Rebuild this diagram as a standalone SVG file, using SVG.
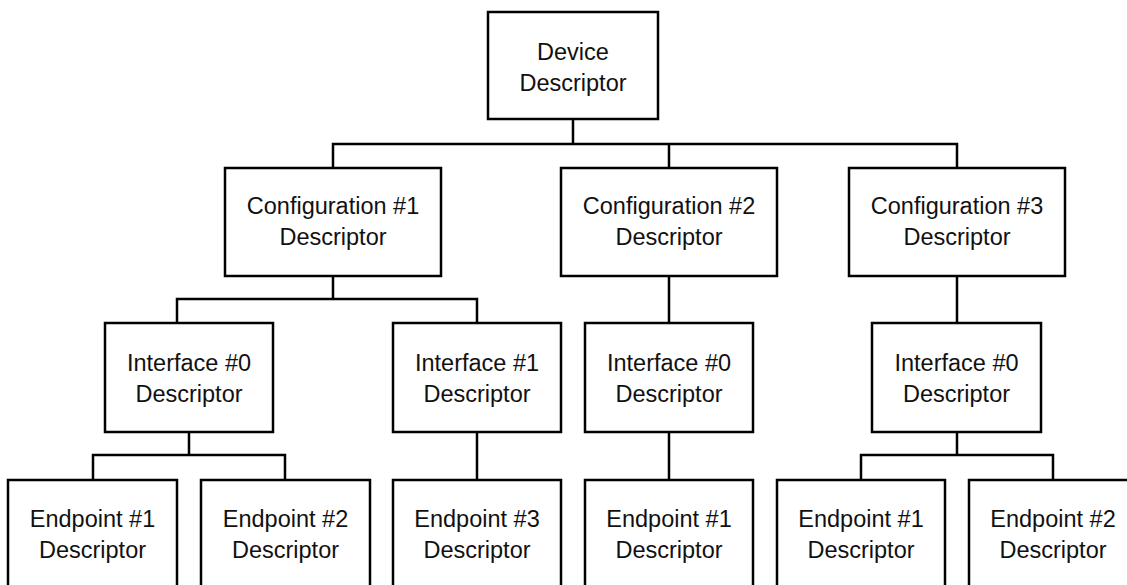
<svg xmlns="http://www.w3.org/2000/svg" width="1127" height="585" viewBox="0 0 1127 585">
<style>
.box{fill:#fff;stroke:#000;stroke-width:2.5}
.ln{fill:none;stroke:#000;stroke-width:2.5;stroke-linecap:square}
text{font-family:"Liberation Sans",Arial,sans-serif;font-size:23.5px;fill:#111;text-anchor:middle}
</style>
<rect width="1127" height="585" fill="#fff"/>
<g id="connectors">
<path class="ln" d="M573,119V144M333,144H957M333,144V168M669,144V168M957,144V168"/>
<path class="ln" d="M333,276V299M177,299H477M177,299V323M477,299V323"/>
<path class="ln" d="M669,276V323M957,276V323"/>
<path class="ln" d="M189,432V455M93,455H285M93,455V480M285,455V480"/>
<path class="ln" d="M477,432V480M669,432V480"/>
<path class="ln" d="M957,432V455M861,455H1053M861,455V480M1053,455V480"/>
</g>
<g id="device"><rect class="box" x="488" y="12" width="170" height="107"/><text x="573" y="59.5">Device</text><text x="573" y="90.5">Descriptor</text></g>
<g id="config1"><rect class="box" x="225" y="168" width="216" height="108"/><text x="333" y="213.5">Configuration #1</text><text x="333" y="245">Descriptor</text></g>
<g id="config2"><rect class="box" x="561" y="168" width="216" height="108"/><text x="669" y="213.5">Configuration #2</text><text x="669" y="245">Descriptor</text></g>
<g id="config3"><rect class="box" x="849" y="168" width="216" height="108"/><text x="957" y="213.5">Configuration #3</text><text x="957" y="245">Descriptor</text></g>
<g id="c1-if0"><rect class="box" x="105" y="323" width="168" height="109"/><text x="189" y="371">Interface #0</text><text x="189" y="402">Descriptor</text></g>
<g id="c1-if1"><rect class="box" x="393" y="323" width="168" height="109"/><text x="477" y="371">Interface #1</text><text x="477" y="402">Descriptor</text></g>
<g id="c2-if0"><rect class="box" x="585" y="323" width="168" height="109"/><text x="669" y="371">Interface #0</text><text x="669" y="402">Descriptor</text></g>
<g id="c3-if0"><rect class="box" x="872" y="323" width="169" height="109"/><text x="956.5" y="371">Interface #0</text><text x="956.5" y="402">Descriptor</text></g>
<g id="c1-if0-ep1"><rect class="box" x="8" y="480" width="169" height="109"/><text x="92.5" y="526.5">Endpoint #1</text><text x="92.5" y="558">Descriptor</text></g>
<g id="c1-if0-ep2"><rect class="box" x="201" y="480" width="169" height="109"/><text x="285.5" y="526.5">Endpoint #2</text><text x="285.5" y="558">Descriptor</text></g>
<g id="c1-if1-ep3"><rect class="box" x="393" y="480" width="168" height="109"/><text x="477" y="526.5">Endpoint #3</text><text x="477" y="558">Descriptor</text></g>
<g id="c2-if0-ep1"><rect class="box" x="585" y="480" width="168" height="109"/><text x="669" y="526.5">Endpoint #1</text><text x="669" y="558">Descriptor</text></g>
<g id="c3-if0-ep1"><rect class="box" x="777" y="480" width="168" height="109"/><text x="861" y="526.5">Endpoint #1</text><text x="861" y="558">Descriptor</text></g>
<g id="c3-if0-ep2"><rect class="box" x="969" y="480" width="168" height="109"/><text x="1053" y="526.5">Endpoint #2</text><text x="1053" y="558">Descriptor</text></g>
</svg>
